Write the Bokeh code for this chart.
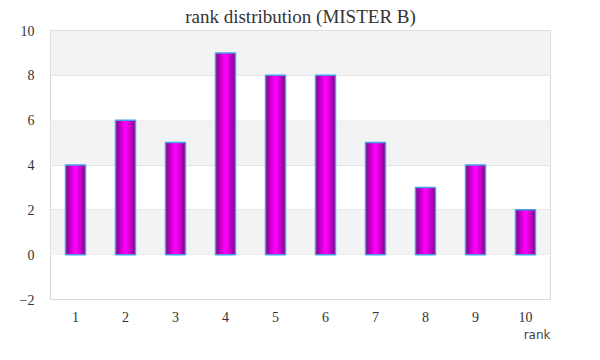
from bokeh.plotting import figure
from bokeh.models import ColumnDataSource, BoxAnnotation, Title, FixedTicker, Range1d
from bokeh.embed import file_html
from bokeh.resources import INLINE

ranks = [1, 2, 3, 4, 5, 6, 7, 8, 9, 10]
counts = [4, 6, 5, 9, 8, 8, 5, 3, 4, 2]
rank_labels = ["1", "2", "3", "4", "5", "6", "7", "8", "9", "10"]
y_ticks = [-2, 0, 2, 4, 6, 8, 10]
bands = [(8, 10), (4, 6), (0, 2)]

SERIF = "Liberation Serif"

p = figure(width=584, height=344, output_backend="svg", toolbar_location=None,
           x_range=Range1d(0.5, 10.5), y_range=Range1d(-2, 10),
           min_border_left=50, min_border_right=34, min_border_bottom=45, min_border_top=0)

p.title.text = "rank distribution (MISTER B)"
p.title.align = "center"
p.title.text_font = SERIF
p.title.text_font_size = "19px"
p.title.text_font_style = "normal"
p.title.text_color = "#333333"
p.title.text_line_height = 0.6
p.title.standoff = 7

p.add_layout(Title(text="rank", align="right", text_font="DejaVu Sans",
                   text_font_size="12px", text_font_style="normal",
                   text_color="#444444", standoff=2), "below")

p.background_fill_color = "white"
p.outline_line_color = "#d8d8d8"
p.outline_line_width = 1

for lo, hi in bands:
    p.add_layout(BoxAnnotation(bottom=lo, top=hi, fill_color="#f3f3f3", fill_alpha=1, line_alpha=0, level="underlay"))

p.xgrid.grid_line_color = None
p.ygrid.grid_line_color = "#e3e3e3"
p.ygrid.grid_line_width = 1

src = ColumnDataSource(dict(x=ranks, top=counts))

# gradient simulated by nested bars: dark edges to bright centre
n = 12
dark = (0x8c, 0x00, 0x8c)
bright = (0xff, 0x00, 0xff)
W = 0.4
for i in range(n):
    t = i / (n - 1)
    c = tuple(int(round(dark[k] + (bright[k] - dark[k]) * t)) for k in range(3))
    col = "#%02x%02x%02x" % c
    w = W * (1 - i / n)
    p.vbar(x="x", top="top", bottom=0, width=w, source=src, fill_color=col,
           line_color=None)
# outline on top
p.vbar(x="x", top="top", bottom=0, width=W, source=src, fill_color=None,
       line_color="#45a0ec", line_width=1.5)

p.xaxis.ticker = FixedTicker(ticks=ranks)
p.xaxis.major_label_overrides = {r: l for r, l in zip(ranks, rank_labels)}
p.yaxis.ticker = FixedTicker(ticks=y_ticks)
for ax in (p.xaxis[0], p.yaxis[0]):
    ax.axis_line_color = None
    ax.major_tick_line_color = None
    ax.minor_tick_line_color = None
    ax.major_label_text_font = SERIF
    ax.major_label_text_font_size = "14px"
    ax.major_label_text_color = "#333333"
p.xaxis.major_label_standoff = 6
p.yaxis.major_label_standoff = 10

open("out.html", "w").write(file_html(p, INLINE))
